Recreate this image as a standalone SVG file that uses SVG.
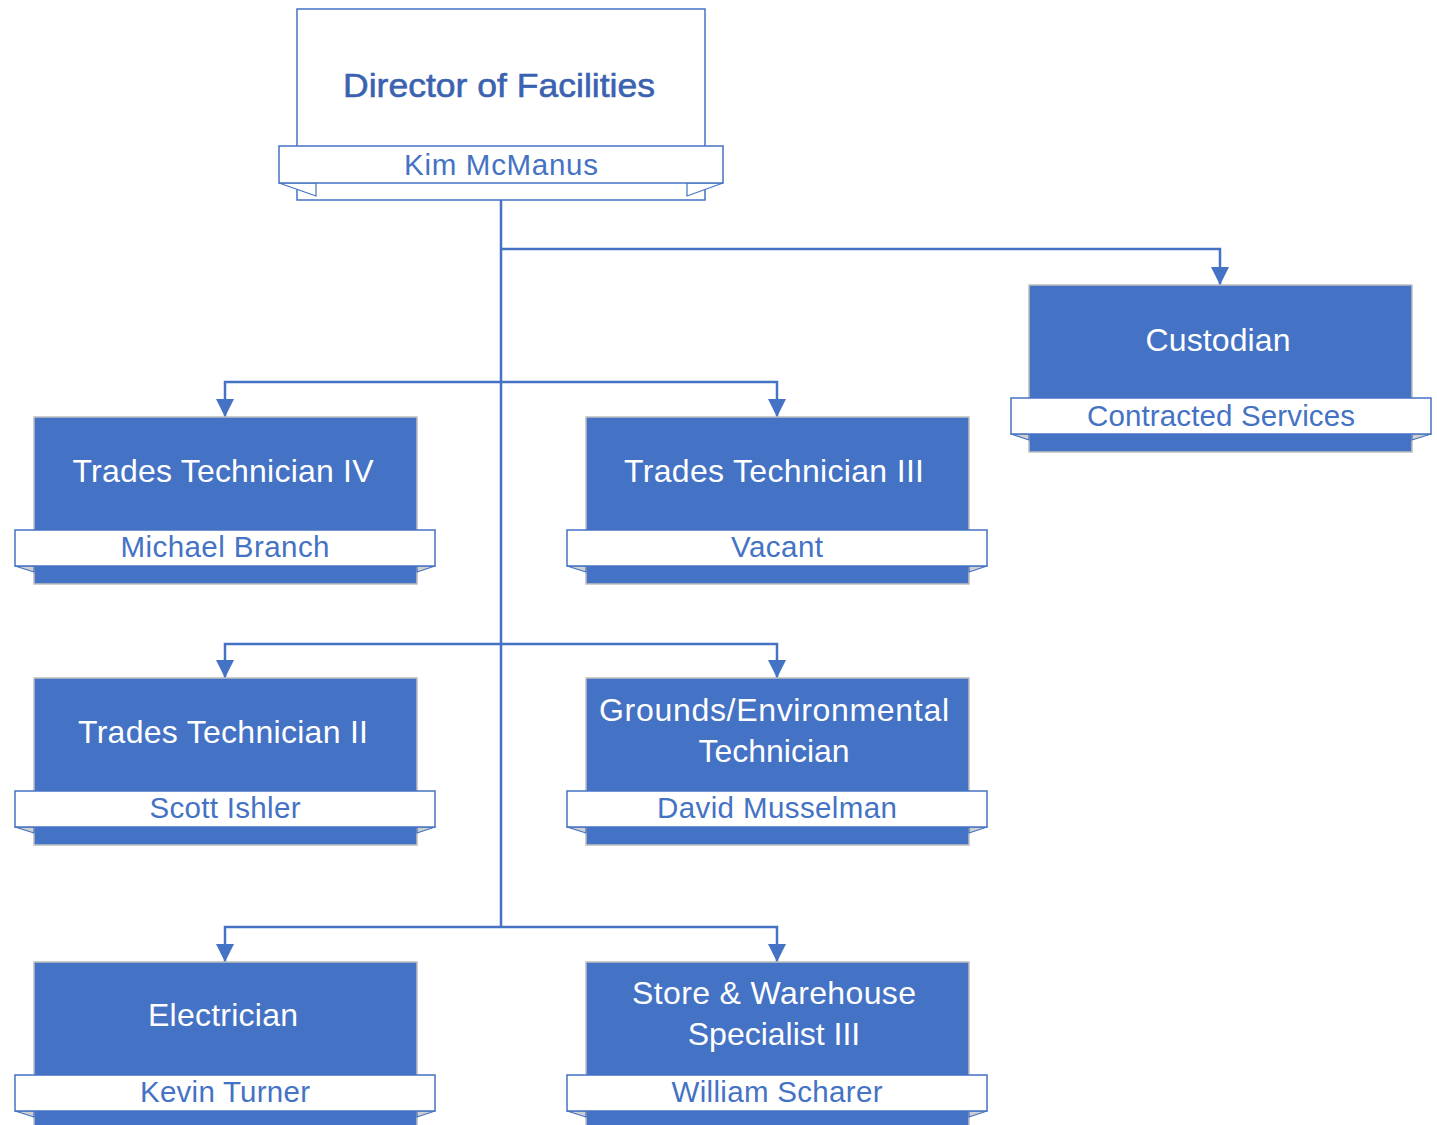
<svg xmlns="http://www.w3.org/2000/svg" width="1437" height="1125" viewBox="0 0 1437 1125">
<style>
.box{fill:#4472C4;stroke:#BFBFBF;stroke-width:1.5}
.top{fill:#FFFFFF;stroke:#4472C4;stroke-width:1.5}
.rib{fill:#FFFFFF;stroke:#4472C4;stroke-width:1.5}
.fold{fill:#CFCFCF;stroke:#4472C4;stroke-width:1.2;stroke-linejoin:round}
.foldw{fill:#FFFFFF;stroke:#4472C4;stroke-width:1.2}
.t{font-family:"Liberation Sans",Arial,sans-serif;font-size:32px;fill:#FFFFFF;text-anchor:middle}
.n{font-family:"Liberation Sans",Arial,sans-serif;font-size:29.5px;fill:#4472C4;text-anchor:middle}
.d{font-family:"Liberation Sans",Arial,sans-serif;font-size:34px;fill:#3A62B0;stroke:#3A62B0;stroke-width:0.6;text-anchor:middle}
.c{fill:none;stroke:#4472C4;stroke-width:2.5}
</style>
<defs>
<marker id="arr" markerUnits="userSpaceOnUse" markerWidth="18" markerHeight="18" refX="18" refY="9" orient="auto" viewBox="0 0 18 18">
<path d="M0,0 L18,9 L0,18 z" fill="#4472C4"/>
</marker>
</defs>
<g id="connectors">
<path class="c" d="M501,200 V927"/>
<path class="c" d="M501,249 H1220 V285" marker-end="url(#arr)"/>
<path class="c" d="M501,382 H225 V417" marker-end="url(#arr)"/>
<path class="c" d="M501,382 H777 V417" marker-end="url(#arr)"/>
<path class="c" d="M501,644 H225 V678" marker-end="url(#arr)"/>
<path class="c" d="M501,644 H777 V678" marker-end="url(#arr)"/>
<path class="c" d="M501,927 H225 V962" marker-end="url(#arr)"/>
<path class="c" d="M501,927 H777 V962" marker-end="url(#arr)"/>
</g>
<g id="director">
<rect class="top" x="297" y="9" width="408" height="191"/>
<polygon class="foldw" points="279,183 316,196 316,183"/>
<polygon class="foldw" points="723,183 687,196 687,183"/>
<rect class="rib" x="279" y="146" width="444" height="37"/>
<text class="d" x="499" y="97" textLength="312" lengthAdjust="spacingAndGlyphs">Director of Facilities</text>
<text class="n" x="501" y="175" textLength="194">Kim McManus</text>
</g>
<g id="custodian">
<rect class="box" x="1029" y="285" width="383" height="167"/>
<polygon class="fold" points="1011,434 1029,440 1029,434"/>
<polygon class="fold" points="1431,434 1412,440 1412,434"/>
<rect class="rib" x="1011" y="398" width="420" height="36"/>
<text class="t" x="1218" y="351" textLength="145">Custodian</text>
<text class="n" x="1221" y="426" textLength="268">Contracted Services</text>
</g>
<g id="tt4">
<rect class="box" x="34" y="417" width="383" height="167"/>
<polygon class="fold" points="15,566 34,572 34,566"/>
<polygon class="fold" points="435,566 417,572 417,566"/>
<rect class="rib" x="15" y="530" width="420" height="36"/>
<text class="t" x="223" y="482" textLength="301">Trades Technician IV</text>
<text class="n" x="225" y="557" textLength="209">Michael Branch</text>
</g>
<g id="tt3">
<rect class="box" x="586" y="417" width="383" height="167"/>
<polygon class="fold" points="567,566 586,572 586,566"/>
<polygon class="fold" points="987,566 969,572 969,566"/>
<rect class="rib" x="567" y="530" width="420" height="36"/>
<text class="t" x="774" y="482" textLength="300">Trades Technician III</text>
<text class="n" x="777" y="557" textLength="92">Vacant</text>
</g>
<g id="tt2">
<rect class="box" x="34" y="678" width="383" height="167"/>
<polygon class="fold" points="15,827 34,833 34,827"/>
<polygon class="fold" points="435,827 417,833 417,827"/>
<rect class="rib" x="15" y="791" width="420" height="36"/>
<text class="t" x="223" y="743" textLength="290">Trades Technician II</text>
<text class="n" x="225" y="818" textLength="151">Scott Ishler</text>
</g>
<g id="grounds">
<rect class="box" x="586" y="678" width="383" height="167"/>
<polygon class="fold" points="567,827 586,833 586,827"/>
<polygon class="fold" points="987,827 969,833 969,827"/>
<rect class="rib" x="567" y="791" width="420" height="36"/>
<text class="t" x="774" y="721" textLength="350">Grounds/Environmental</text>
<text class="t" x="774" y="762">Technician</text>
<text class="n" x="777" y="818" textLength="240">David Musselman</text>
</g>
<g id="electrician">
<rect class="box" x="34" y="962" width="383" height="175"/>
<polygon class="fold" points="15,1111 34,1117 34,1111"/>
<polygon class="fold" points="435,1111 417,1117 417,1111"/>
<rect class="rib" x="15" y="1075" width="420" height="36"/>
<text class="t" x="223" y="1026" textLength="150">Electrician</text>
<text class="n" x="225" y="1102" textLength="170">Kevin Turner</text>
</g>
<g id="store">
<rect class="box" x="586" y="962" width="383" height="175"/>
<polygon class="fold" points="567,1111 586,1117 586,1111"/>
<polygon class="fold" points="987,1111 969,1117 969,1111"/>
<rect class="rib" x="567" y="1075" width="420" height="36"/>
<text class="t" x="774" y="1004" textLength="284">Store &amp; Warehouse</text>
<text class="t" x="774" y="1045">Specialist III</text>
<text class="n" x="777" y="1102" textLength="211">William Scharer</text>
</g>
</svg>
